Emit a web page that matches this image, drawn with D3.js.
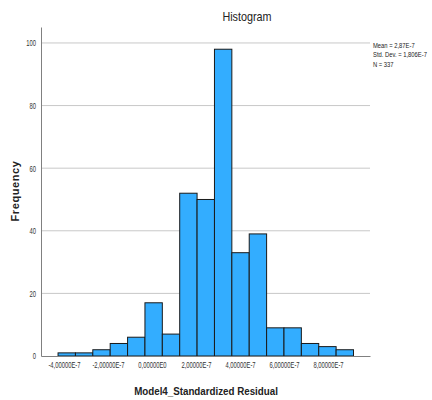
<!DOCTYPE html>
<html><head><meta charset="utf-8">
<script src="https://cdn.jsdelivr.net/npm/d3@7"></script>
<style>body{margin:0;background:#fff}svg{display:block}</style>
</head><body>
<svg id="c" width="432" height="400"></svg>
<script>
const binStart = -4.27e-7;
const binWidth = 0.79e-7;
const counts = [1,1,2,4,6,17,7,52,50,98,33,39,9,9,4,3,2];
const xTicks = [-4e-7,-2e-7,0,2e-7,4e-7,6e-7,8e-7];
const xTickLabels = ["-4,00000E-7","-2,00000E-7","0,00000E0","2,00000E-7","4,00000E-7","6,00000E-7","8,00000E-7"];
const yTicks = [0,20,40,60,80,100];
const legendLines = ["Mean = 2,87E-7","Std. Dev. = 1,806E-7","N = 337"];

const svg = d3.select("#c");
const L=41,R=370,T=27,B=356;
const x = d3.scaleLinear().domain([-5.045e-7, 9.91e-7]).range([L,R]);
const y = d3.scaleLinear().domain([0,105.1]).range([B,T]);
const ff = "'Liberation Sans',Arial,sans-serif";

// horizontal condensing via transform (anchor point preserved)
function hscale(sel, f){
  sel.each(function(){
    const tx = +(this.getAttribute("x") || 0);
    this.setAttribute("x", 0);
    this.setAttribute("transform", `translate(${tx},0) scale(${f},1)`);
  });
}

// gridlines
svg.append("g").selectAll("line").data(yTicks.filter(d=>d>0)).join("line")
  .attr("x1",L).attr("x2",R).attr("y1",d=>y(d)).attr("y2",d=>y(d))
  .attr("stroke","#c8c8c8").attr("stroke-width",1);

// bars
svg.append("g").selectAll("rect").data(counts).join("rect")
  .attr("x",(d,i)=>x(binStart+i*binWidth))
  .attr("width",(d,i)=>x(binStart+(i+1)*binWidth)-x(binStart+i*binWidth))
  .attr("y",d=>y(d)).attr("height",d=>y(0)-y(d))
  .attr("fill","#33adff").attr("stroke","#1a1a1a").attr("stroke-width",1);

// axes
const ya = d3.axisLeft(y).tickValues(yTicks).tickSize(0).tickPadding(5);
const gy = svg.append("g").attr("transform",`translate(${L},0)`).call(ya);
gy.select(".domain").attr("stroke","#808080");
gy.selectAll("text").attr("font-family",ff).attr("font-size",9).attr("fill","#333").call(hscale,0.65);

const xa = d3.axisBottom(x).tickValues(xTicks).tickFormat((d,i)=>xTickLabels[i]).tickSize(0).tickPadding(6);
const gx = svg.append("g").attr("transform",`translate(0,${B})`).call(xa);
gx.select(".domain").attr("stroke","#808080");
gx.selectAll("text").attr("font-family",ff).attr("font-size",9).attr("fill","#333").call(hscale,0.65);

// title
svg.append("text").attr("x",247).attr("y",21).attr("text-anchor","middle")
  .attr("font-family",ff).attr("font-size",12).attr("fill","#222").text("Histogram").call(hscale,0.9);

// axis titles
svg.append("text").attr("transform","translate(19,191) rotate(-90)").attr("text-anchor","middle")
  .attr("font-family",ff).attr("font-weight","bold").attr("font-size",11).attr("letter-spacing",0.6)
  .attr("fill","#222").text("Frequency");
svg.append("text").attr("x",206).attr("y",395).attr("text-anchor","middle")
  .attr("font-family",ff).attr("font-weight","bold").attr("font-size",11.5).attr("fill","#222")
  .text("Model4_Standardized Residual").call(hscale,0.85);

// legend
svg.append("g").selectAll("text").data(legendLines).join("text")
  .attr("x",373).attr("y",(d,i)=>48+i*9.5)
  .attr("font-family",ff).attr("font-size",8).attr("fill","#222").text(d=>d).call(hscale,0.73);
</script>
</body></html>
